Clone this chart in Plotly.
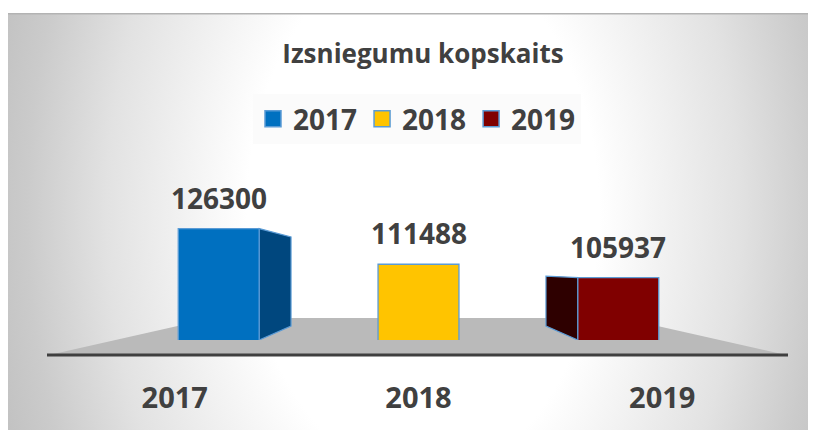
import base64
import plotly.graph_objects as go

# ---------------- data ----------------
years = ["2017", "2018", "2019"]
values = [126300, 111488, 105937]
front_colors = ["#0070C0", "#FFC400", "#800000"]
side_colors = ["#00477E", "#D9A600", "#2E0000"]
edge_color = "#5B9BD5"
title_text = "Izsniegumu kopskaits"

# ---------------- geometry / scales ----------------
OFF = 8                        # page body margin
W, H = 816 - OFF, 430 - OFF    # figure size
ML, MR, MT, MB = 0, 0, 5, 90
plot_w = W - ML - MR
plot_h = H - MT - MB
PLOT_BOTTOM_PAGE = 340
PLOT_LEFT_PAGE = OFF + ML
y_min = 80000                 # visible floor of the value axis
units_per_px = 415.6
y_max = y_min + plot_h * units_per_px
x_unit_px = 199.8
x0_px = 218.7                  # page px of first category
x_lo = (PLOT_LEFT_PAGE - x0_px) / x_unit_px
x_hi = (PLOT_LEFT_PAGE + plot_w - x0_px) / x_unit_px
bar_w = 0.405

# perspective vanishing point (data coords) and depth factors
vp_x = 1.0
vp_y = y_min + (PLOT_BOTTOM_PAGE - 270) * units_per_px
depth_k = 0.8          # back face of boxes
front_k = 1.22         # category labels sit on the (nearer) floor edge

def back(px, py):
    return vp_x + depth_k * (px - vp_x), vp_y + depth_k * (py - vp_y)

def px2paper(px, py):
    return (px - PLOT_LEFT_PAGE) / plot_w, (PLOT_BOTTOM_PAGE - py) / plot_h

xs = list(range(len(years)))
tick_pos = [vp_x + front_k * (x - vp_x) for x in xs]

fig = go.Figure()
for i, (yr, v) in enumerate(zip(years, values)):
    fig.add_trace(go.Bar(
        x=[xs[i]], y=[v], name=yr, width=bar_w, legendgroup=yr, showlegend=False,
        marker=dict(color=front_colors[i], line=dict(color=edge_color, width=1.3)),
        hovertemplate="%{y}<extra>" + yr + "</extra>",
    ))
# legend keys (larger square swatches)
for i, yr in enumerate(years):
    fig.add_trace(go.Scatter(
        x=[None], y=[None], name=yr, legendgroup=yr, mode="markers",
        marker=dict(symbol="square", size=16, color=front_colors[i],
                    line=dict(color=edge_color, width=1.5)),
        hoverinfo="skip",
    ))

shapes = []

# background radial gradient (decorative)
BW, BH = plot_w, H - MT
svg = f'''<svg xmlns="http://www.w3.org/2000/svg" width="{BW}" height="{BH}" viewBox="0 0 {BW} {BH}" preserveAspectRatio="none">
<defs><radialGradient id="g" gradientUnits="userSpaceOnUse" cx="415" cy="200" r="440"
 gradientTransform="translate(415,200) scale(1,1.5) translate(-415,-200)">
<stop offset="0" stop-color="#ffffff"/>
<stop offset="0.40" stop-color="#ffffff"/>
<stop offset="0.72" stop-color="#e2e2e2"/>
<stop offset="0.9" stop-color="#cbcbcb"/>
<stop offset="1" stop-color="#c2c2c2"/>
</radialGradient></defs>
<rect width="{BW}" height="{BH}" fill="url(#g)"/>
<rect x="0" y="0" width="{BW}" height="1.5" fill="#b3b3b3"/>
</svg>'''
src = "data:image/svg+xml;base64," + base64.b64encode(svg.encode()).decode()

# floor (decorative, paper coords)
fl = [px2paper(49, 355), px2paper(786, 355), px2paper(622, 318), px2paper(213, 318)]
shapes.append(dict(type="path", xref="paper", yref="paper", layer="below",
                   path="M " + " L ".join(f"{a:.5f},{b:.5f}" for a, b in fl) + " Z",
                   fillcolor="#bababa", line=dict(width=0)))
e1, e2 = px2paper(47, 355), px2paper(788, 355)
shapes.append(dict(type="line", xref="paper", yref="paper", layer="below",
                   x0=e1[0], y0=e1[1], x1=e2[0], y1=e2[1],
                   line=dict(color="#3f3f3f", width=3)))

# side faces of the 3D boxes (derived from bar values)
for i, v in enumerate(values):
    if abs(xs[i] - vp_x) < 1e-9:
        continue
    xe = xs[i] + bar_w / 2 if xs[i] < vp_x else xs[i] - bar_w / 2
    pts = [(xe, y_min), (xe, v), back(xe, v), back(xe, y_min)]
    shapes.append(dict(type="path", xref="x", yref="y", layer="below",
                       path="M " + " L ".join(f"{a:.5f},{b:.2f}" for a, b in pts) + " Z",
                       fillcolor=side_colors[i], line=dict(color=edge_color, width=1.2)))

annotations = []
for i, v in enumerate(values):
    annotations.append(dict(x=xs[i], y=v, text=str(v), showarrow=False,
                            yshift=31, yanchor="middle",
                            font=dict(family="Open Sans", size=28, weight="bold", color="#404040")))

fig.update_layout(
    width=W, height=H,
    margin=dict(l=ML, r=MR, t=MT, b=MB, pad=0),
    paper_bgcolor="white", plot_bgcolor="rgba(0,0,0,0)",
    barmode="overlay",
    title=dict(text=title_text, x=(423 - OFF) / W, xref="container", xanchor="center",
               y=1 - (54 - OFF) / H, yref="container", yanchor="middle",
               font=dict(family="Open Sans", size=26, weight="bold", color="#404040")),
    legend=dict(orientation="h", x=(417 - PLOT_LEFT_PAGE) / plot_w, xanchor="center",
                y=(PLOT_BOTTOM_PAGE - 119) / plot_h, yanchor="middle",
                bgcolor="rgba(250,250,250,0.85)", borderwidth=0,
                font=dict(family="Open Sans", size=28, weight="bold", color="#404040"),
                itemclick=False, itemdoubleclick=False),
    xaxis=dict(range=[x_lo, x_hi], tickvals=tick_pos, ticktext=years, showgrid=False,
               zeroline=False, showline=False, ticks="", ticklabelstandoff=38,
               tickfont=dict(family="Open Sans", size=29, weight="bold", color="#404040"),
               fixedrange=True),
    yaxis=dict(range=[y_min, y_max], visible=False, fixedrange=True),
    images=[dict(source=src, xref="paper", yref="paper", x=0, y=1,
                 sizex=1, sizey=(H - MT) / plot_h, xanchor="left", yanchor="top",
                 sizing="stretch", layer="below")],
    shapes=shapes,
    annotations=annotations,
    showlegend=True,
)

fig.write_html("out.html")
